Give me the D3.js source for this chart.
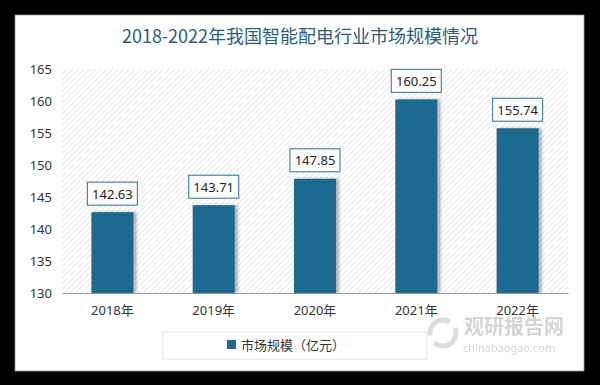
<!DOCTYPE html>
<html>
<head>
<meta charset="utf-8">
<script src="https://cdn.jsdelivr.net/npm/d3@7"></script>
<style>
  body { margin: 0; background: #000; }
  svg { display: block; }
</style>
</head>
<body>
<svg id="chart"></svg>
<script>
var years = ['2018年', '2019年', '2020年', '2021年', '2022年'];
var marketSize = [142.63, 143.71, 147.85, 160.25, 155.74];
var yTicks = [130, 135, 140, 145, 150, 155, 160, 165];
var seriesName = '市场规模（亿元）';
var title = '2018-2022年我国智能配电行业市场规模情况';

const W = 600, H = 385;
const plotLeft = 62, plotRight = 568, plotTop = 69, plotBottom = 293;
const barColor = '#1d6b8f';
const font = '"Noto Sans", "Noto Sans CJK SC", sans-serif';

const svg = d3.select('#chart').attr('width', W).attr('height', H);

var defs = svg.append('defs');
var pat = defs.append('pattern')
    .attr('id', 'hatch')
    .attr('patternUnits', 'userSpaceOnUse')
    .attr('width', 4).attr('height', 4)
    .attr('patternTransform', 'rotate(45)');
pat.append('rect').attr('width', 4).attr('height', 4).attr('fill', '#fff');
pat.append('line').attr('x1', 0).attr('y1', 0).attr('x2', 0).attr('y2', 4)
    .attr('stroke', '#e2e2e2').attr('stroke-width', 1.6);

var sh = defs.append('filter').attr('id', 'shadow')
    .attr('x', '-20%').attr('y', '-10%').attr('width', '150%').attr('height', '130%');
sh.append('feDropShadow').attr('dx', 3).attr('dy', 0).attr('stdDeviation', 1.5)
    .attr('flood-color', '#000').attr('flood-opacity', 0.3);

// panel
svg.append('rect').attr('x', 15).attr('y', 15).attr('width', 569).attr('height', 356)
    .attr('fill', '#fff').attr('stroke', '#999').attr('stroke-width', 0.8);

svg.append('text')
    .attr('x', 300).attr('y', 43)
    .attr('text-anchor', 'middle')
    .style('font-family', '"Noto Sans CJK SC", sans-serif')
    .style('font-size', '18px')
    .style('fill', '#2a5d7c')
    .text(title);

var x = d3.scaleBand().domain(years).range([plotLeft, plotRight]).paddingInner(0.585).paddingOuter(0.29);
var y = d3.scaleLinear().domain([130, 165]).range([plotBottom, plotTop]);

svg.append('rect').attr('x', plotLeft).attr('y', plotTop)
    .attr('width', plotRight - plotLeft).attr('height', plotBottom - plotTop)
    .attr('fill', 'url(#hatch)');

var data = years.map((d, i) => ({ year: d, val: marketSize[i] }));

svg.selectAll('rect.bar')
    .data(data)
    .enter()
    .append('rect')
    .attr('class', 'bar')
    .attr('x', d => x(d.year))
    .attr('y', d => y(d.val))
    .attr('width', x.bandwidth())
    .attr('height', d => plotBottom - y(d.val))
    .attr('fill', barColor)
    .attr('filter', 'url(#shadow)');

// axes
var yAxis = svg.append('g')
    .attr('transform', `translate(52,0)`)
    .call(d3.axisLeft(y).tickValues(yTicks).tickSize(0).tickPadding(0));
yAxis.select('.domain').remove();
yAxis.selectAll('text').style('font-family', font).style('font-size', '13px').style('fill', '#333')
    .attr('x', 0);

var xAxis = svg.append('g')
    .attr('transform', `translate(0,${plotBottom})`)
    .call(d3.axisBottom(x).tickSize(0).tickPadding(13));
xAxis.select('.domain').attr('stroke', '#999');
xAxis.selectAll('text').style('font-family', font).style('font-size', '13px').style('fill', '#333');

// value labels
var lab = svg.selectAll('g.lab')
    .data(data)
    .enter()
    .append('g')
    .attr('class', 'lab')
    .attr('transform', d => `translate(${x(d.year) + x.bandwidth() / 2},${y(d.val) - 18})`);
lab.append('rect')
    .attr('x', -25).attr('y', -12).attr('width', 50).attr('height', 23)
    .attr('fill', '#fff').attr('stroke', '#4a86a8').attr('stroke-width', 1.2);
lab.append('text')
    .attr('text-anchor', 'middle').attr('dy', '0.35em')
    .style('font-family', font).style('font-size', '13px').style('fill', '#222')
    .text(d => d.val.toFixed(2));

// legend
var lg = svg.append('g');
lg.append('rect').attr('x', 163).attr('y', 332).attr('width', 264).attr('height', 27)
    .attr('fill', '#fff').attr('stroke', '#e0e0e0');
lg.append('rect').attr('x', 227).attr('y', 340).attr('width', 9).attr('height', 9).attr('fill', barColor);
lg.append('text').attr('x', 241).attr('y', 345).attr('dy', '0.35em')
    .style('font-family', '"Noto Sans CJK SC", sans-serif').style('font-size', '13px').style('fill', '#333')
    .text(seriesName);

// watermark
var wm = svg.append('g').attr('opacity', 0.5);
wm.append('circle').attr('cx', 443).attr('cy', 333).attr('r', 13)
    .attr('fill', 'none').attr('stroke', '#bbb').attr('stroke-width', 5)
    .attr('stroke-dasharray', '30 8');
wm.append('text').attr('x', 464).attr('y', 334)
    .style('font-family', '"Noto Sans CJK SC", sans-serif').style('font-size', '20px')
    .style('font-weight', 'bold').style('fill', '#aaa')
    .text('观研报告网');
wm.append('text').attr('x', 463).attr('y', 352)
    .style('font-family', font).style('font-size', '11px').style('fill', '#aaa')
    .text('chinabaogao.com');
</script>
</body>
</html>
